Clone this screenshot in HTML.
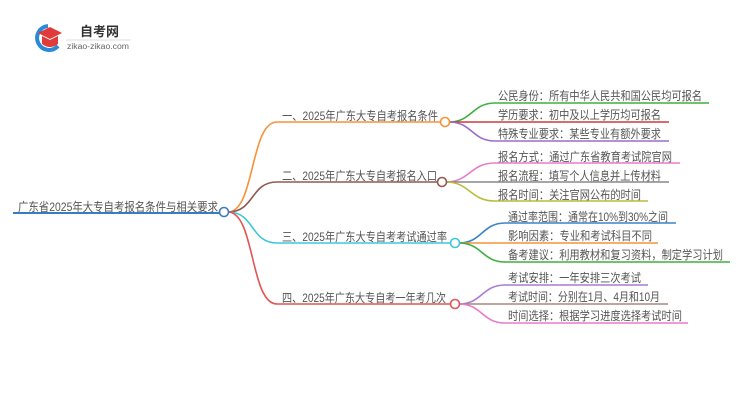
<!DOCTYPE html>
<html><head><meta charset="utf-8"><style>
html,body{margin:0;padding:0;background:#fff;width:750px;height:410px;overflow:hidden}
svg text{font-family:"Liberation Sans","Noto Sans CJK SC",sans-serif;fill:#555;font-size:12px}
</style></head><body>
<svg width="750" height="410" viewBox="0 0 750 410" xmlns="http://www.w3.org/2000/svg">
<!-- logo -->
<path d="M48 26 A12 12 0 1 0 58 46" fill="none" stroke="#2a8ad8" stroke-width="4"/>
<polygon points="38,33 50,27 62,33 50,39" fill="#e03a3a"/>
<path d="M42 36 L42 44 Q50 50 58 44 L58 36 L50 40 Z" fill="#e03a3a"/>
<text x="80" y="36" style="font-size:13px;font-weight:bold;fill:#333">自考网</text>
<line x1="66" y1="40" x2="131" y2="40" stroke="#ddd" stroke-width="1"/>
<text x="67" y="49" style="font-size:8px;fill:#666" textLength="62" lengthAdjust="spacingAndGlyphs">zikao-zikao.com</text>

<!-- root -->
<line x1="13" y1="213" x2="220" y2="213" stroke="#3a7cc4" stroke-width="2"/>
<text x="18" y="211" textLength="200" lengthAdjust="spacingAndGlyphs">广东省2025年大专自考报名条件与相关要求</text>

<!-- main branches -->
<g fill="none" stroke-width="1.6">
<path d="M228 212 C255 212,250 122,277 122 L441 122" stroke="#f7923a"/>
<path d="M228 212 C255 212,250 182,277 182 L438 182" stroke="#8d5a4f"/>
<path d="M228 212 C255 212,250 243,277 243 L451 243" stroke="#3cc8db"/>
<path d="M228 212 C255 212,250 304,277 304 L451 304" stroke="#e05555"/>
</g>
<text x="282" y="120" textLength="156" lengthAdjust="spacingAndGlyphs">一、2025年广东大专自考报名条件</text>
<text x="282" y="180" textLength="155" lengthAdjust="spacingAndGlyphs">二、2025年广东大专自考报名入口</text>
<text x="282" y="241" textLength="165" lengthAdjust="spacingAndGlyphs">三、2025年广东大专自考考试通过率</text>
<text x="282" y="302" textLength="164" lengthAdjust="spacingAndGlyphs">四、2025年广东大专自考一年考几次</text>

<!-- children -->
<g fill="none" stroke-width="1.6">
<path d="M449 122 C472 122,472 103,495 103 L709 103" stroke="#3bb03b"/>
<path d="M449 122 L669 122" stroke="#d03a3a"/>
<path d="M449 122 C472 122,472 141,495 141 L669 141" stroke="#9b6bcc"/>
<path d="M446 182 C470 182,470 163,495 163 L680 163" stroke="#e87ac8"/>
<path d="M446 182 L669 182" stroke="#888"/>
<path d="M446 182 C470 182,470 201,495 201 L648 201" stroke="#b8bc3a"/>
<path d="M459 243 C482 243,482 223,505 223 L676 223" stroke="#3a84c8"/>
<path d="M459 243 L658 243" stroke="#f7923a"/>
<path d="M459 243 C482 243,482 262,505 262 L730 262" stroke="#3bb03b"/>
<path d="M459 304 C482 304,482 285,505 285 L648 285" stroke="#a87ad0"/>
<path d="M459 304 L668 304" stroke="#a88880"/>
<path d="M459 304 C482 304,482 323,505 323 L688 323" stroke="#e87ac8"/>
</g>
<text x="498" y="100" textLength="204" lengthAdjust="spacingAndGlyphs">公民身份：所有中华人民共和国公民均可报名</text>
<text x="498" y="119" textLength="163" lengthAdjust="spacingAndGlyphs">学历要求：初中及以上学历均可报名</text>
<text x="498" y="138" textLength="163" lengthAdjust="spacingAndGlyphs">特殊专业要求：某些专业有额外要求</text>
<text x="498" y="161" textLength="174" lengthAdjust="spacingAndGlyphs">报名方式：通过广东省教育考试院官网</text>
<text x="498" y="180" textLength="163" lengthAdjust="spacingAndGlyphs">报名流程：填写个人信息并上传材料</text>
<text x="498" y="199" textLength="143" lengthAdjust="spacingAndGlyphs">报名时间：关注官网公布的时间</text>
<text x="508" y="221" textLength="160" lengthAdjust="spacingAndGlyphs">通过率范围：通常在10%到30%之间</text>
<text x="508" y="240" textLength="144" lengthAdjust="spacingAndGlyphs">影响因素：专业和考试科目不同</text>
<text x="508" y="259" textLength="215" lengthAdjust="spacingAndGlyphs">备考建议：利用教材和复习资料，制定学习计划</text>
<text x="508" y="282" textLength="133" lengthAdjust="spacingAndGlyphs">考试安排：一年安排三次考试</text>
<text x="508" y="301" textLength="152" lengthAdjust="spacingAndGlyphs">考试时间：分别在1月、4月和10月</text>
<text x="508" y="320" textLength="174" lengthAdjust="spacingAndGlyphs">时间选择：根据学习进度选择考试时间</text>

<!-- circles -->
<g fill="#fff" stroke-width="1.6">
<circle cx="224" cy="212" r="4.5" stroke="#3a7cc4"/>
<circle cx="445" cy="122" r="4.5" stroke="#f7923a"/>
<circle cx="442" cy="182" r="4.5" stroke="#8d5a4f"/>
<circle cx="455" cy="243" r="4.5" stroke="#3cc8db"/>
<circle cx="455" cy="304" r="4.5" stroke="#e05555"/>
</g>
</svg>
</body></html>
